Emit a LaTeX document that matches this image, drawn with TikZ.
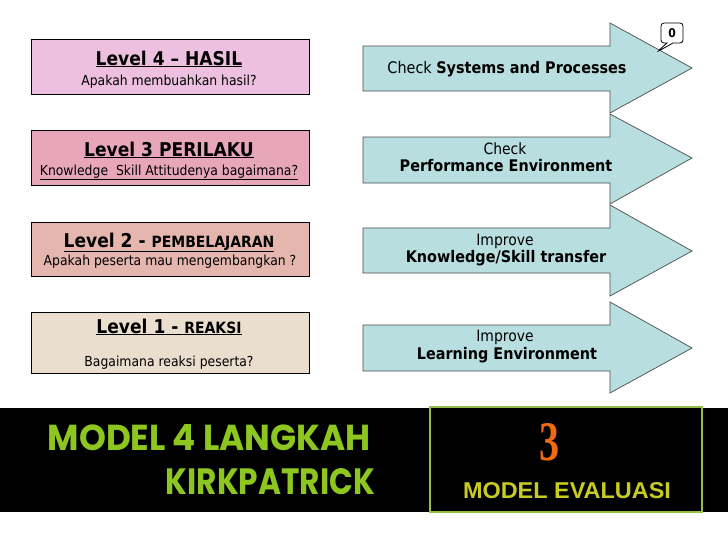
\documentclass[tikz,border=0pt]{standalone}
\usepackage{fontspec}
\setmainfont{DejaVu Sans}[FakeStretch=0.9]
\newfontfamily\gothicf{Poppins}
\newfontfamily\arialf{Liberation Sans}
\newfontfamily\seriff{Liberation Serif}
\usetikzlibrary{shapes.callouts}
\definecolor{fillfour}{HTML}{ECC0DE}
\definecolor{fillthree}{HTML}{E8A6BA}
\definecolor{filltwo}{HTML}{E4B6AE}
\definecolor{fillone}{HTML}{EADECE}
\definecolor{arrowfill}{HTML}{B8DEE0}
\definecolor{titlegreen}{HTML}{8CC61E}
\definecolor{boxgreen}{HTML}{96BE46}
\definecolor{orangethree}{HTML}{F26A10}
\definecolor{olivetext}{HTML}{C8CC20}
\tikzset{
  levelbox/.style={draw=black, line width=0.9pt, minimum width=278pt, inner sep=0pt},
  bigarrow/.style={draw=black!70, fill=arrowfill, line width=0.7pt, line join=miter},
  txt/.style={anchor=base, inner sep=0pt},
  titlefont/.style={font=\fontsize{19}{21}\selectfont\bfseries},
  subfont/.style={font=\fontsize{13.8}{15}\selectfont},
  arrfont/.style={font=\fontsize{16}{18}\selectfont},
  arrsmall/.style={font=\fontsize{15.5}{17}\selectfont},
}
\begin{document}
\begin{tikzpicture}[x=1pt,y=-1pt]
\useasboundingbox (0,0) rectangle (728,546);
\fill[white] (0,0) rectangle (728,546);

% level boxes
\node[levelbox, fill=fillfour,  minimum height=55pt] (b4) at (170,66.5) {};
\node[levelbox, fill=fillthree, minimum height=55pt] (b3) at (170,157.5) {};
\node[levelbox, fill=filltwo,   minimum height=54pt] (b2) at (170,249) {};
\node[levelbox, fill=fillone,   minimum height=61pt] (b1) at (170,342.5) {};

\node[txt, titlefont] (t4) at (169,65) {\underline{Level 4 -- HASIL}};
\node[txt, subfont]   (s4) at (169,85) {Apakah membuahkan hasil?};
\node[txt, titlefont] (t3) at (169,156) {\underline{Level 3 PERILAKU}};
\node[txt, subfont]   (s3) at (169,175) {\underline{Knowledge\ \ Skill Attitudenya bagaimana?}};
\node[txt, titlefont] (t2) at (169,247) {\underline{Level 2 - {\fontsize{15.5}{17}\selectfont PEMBELAJARAN}}};
\node[txt, subfont]   (s2) at (170,265) {Apakah peserta mau mengembangkan ?};
\node[txt, titlefont] (t1) at (169,333) {\underline{Level 1 - {\fontsize{15.5}{17}\selectfont REAKSI}}};
\node[txt, subfont]   (s1) at (169,366) {Bagaimana reaksi peserta?};

% arrows
\draw[bigarrow] (363,46) -- (610,46) -- (610,23) -- (692,68) -- (610,113) -- (610,91) -- (363,91) -- cycle;
\draw[bigarrow] (363,137) -- (610,137) -- (610,114) -- (692,158) -- (610,204) -- (610,183) -- (363,183) -- cycle;
\draw[bigarrow] (363,228) -- (610,228) -- (610,205) -- (692,251) -- (610,296) -- (610,273) -- (363,273) -- cycle;
\draw[bigarrow] (363,325) -- (610,325) -- (610,302) -- (692,348) -- (610,393) -- (610,371) -- (363,371) -- cycle;

\node[txt, arrfont] (a1) at (507,73) {Check \textbf{Systems and Processes}};
\node[txt, arrsmall] (a2a) at (505,154.5) {Check};
\node[txt, arrfont] (a2b) at (506,171) {\textbf{Performance Environment}};
\node[txt, arrsmall] (a3a) at (505,245) {Improve};
\node[txt, arrfont] (a3b) at (506,262.5) {\textbf{Knowledge/Skill transfer}};
\node[txt, arrsmall] (a4a) at (505,341.5) {Improve};
\node[txt, arrfont] (a4b) at (507,359) {\textbf{Learning Environment}};

% callout
\node[rectangle callout, draw=black, fill=white, rounded corners=3pt, line width=0.8pt,
      minimum width=22pt, minimum height=20pt, inner sep=0pt,
      callout absolute pointer={(657,52)}, callout pointer width=6pt,
      font=\fontsize{12}{12}\selectfont\bfseries] (c0) at (672,33) {0};

% bottom band
\fill[black] (0,408) rectangle (728,512);
\draw[boxgreen, line width=2pt, fill=black] (430,407) rectangle (702,512);
\node[txt, anchor=base east] (m1) at (371,450) {\color{titlegreen}\resizebox{323pt}{26pt}{\gothicf\bfseries MODEL 4 LANGKAH}};
\node[txt, anchor=base east] (m2) at (375,494) {\color{titlegreen}\resizebox{209pt}{26pt}{\gothicf\bfseries KIRKPATRICK}};
\node[txt] (three) at (549,460) {\color{orangethree}\resizebox{20pt}{37pt}{\seriff\bfseries 3}};
\node[txt] (me) at (567,498) {\color{olivetext}\resizebox{208pt}{16pt}{\arialf\bfseries MODEL EVALUASI}};
\end{tikzpicture}
\end{document}
